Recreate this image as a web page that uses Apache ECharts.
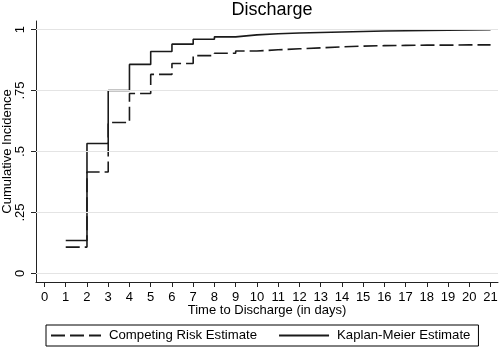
<!DOCTYPE html>
<html>
<head>
<meta charset="utf-8">
<script src="https://cdn.jsdelivr.net/npm/echarts@6/dist/echarts.min.js"></script>
<style>
  html, body { margin: 0; padding: 0; background: #fff; }
  #chart { width: 500px; height: 351px; }
</style>
</head>
<body>
<div id="chart"></div>
<script>
// time points (days) where the step estimates change
const days = [1, 2, 3, 4, 5, 6, 7, 8, 9, 10, 11, 12, 13, 14, 15, 16, 17, 18, 19, 20, 21];
// Kaplan-Meier estimate (solid)
const kmValues = [0.135, 0.533, 0.75, 0.857, 0.91, 0.94, 0.96, 0.97, 0.978, 0.983, 0.986,
                  0.988, 0.99, 0.992, 0.994, 0.995, 0.996, 0.997, 0.998, 0.999, 1.0];
// Competing risk estimate (dashed)
const crValues = [0.108, 0.416, 0.619, 0.738, 0.816, 0.861, 0.893, 0.903, 0.912, 0.917, 0.921,
                  0.925, 0.929, 0.932, 0.934, 0.935, 0.936, 0.936, 0.937, 0.937, 0.937];
// tick labels
const xTicks = [0, 1, 2, 3, 4, 5, 6, 7, 8, 9, 10, 11, 12, 13, 14, 15, 16, 17, 18, 19, 20, 21];
const yTicks = [0, 0.25, 0.5, 0.75, 1];
const yTickLabels = ['0', '.25', '.5', '.75', '1'];

const FONT = 'Liberation Sans, Arial, sans-serif';

function pairs(xs, ys) {
    return xs.map((x, i) => [x, ys[i]]);
}

const chart = echarts.init(document.getElementById('chart'), null, { renderer: 'canvas' });

chart.setOption({
    animation: false,
    backgroundColor: '#fff',
    title: {
        text: 'Discharge',
        left: 267,
        top: -4,
        textAlign: 'center',
        textStyle: { fontFamily: FONT, fontSize: 18, fontWeight: 'normal', color: '#000' }
    },
    grid: { left: 36, right: 2, top: 21, bottom: 69, containLabel: false, outerBoundsMode: 'none' },
    xAxis: {
        type: 'value',
        min: -0.4,
        max: 21.35,
        name: 'Time to Discharge (in days)',
        nameLocation: 'middle',
        nameGap: 22,
        nameMoveOverlap: false,
        nameTextStyle: { fontFamily: FONT, fontSize: 13, color: '#000' },
        axisLine: { show: true, onZero: false, lineStyle: { color: '#222', width: 1 } },
        axisTick: { show: true, length: 5, customValues: xTicks, lineStyle: { color: '#222' } },
        axisLabel: { customValues: xTicks, margin: 9, fontFamily: FONT, fontSize: 13, color: '#000' },
        splitLine: { show: false }
    },
    yAxis: {
        type: 'value',
        min: -0.035,
        max: 1.035,
        name: 'Cumulative Incidence',
        nameLocation: 'middle',
        nameRotate: 90,
        nameGap: 22,
        nameMoveOverlap: false,
        nameTextStyle: { fontFamily: FONT, fontSize: 13, color: '#000' },
        axisLine: { show: true, onZero: false, lineStyle: { color: '#222', width: 1 } },
        axisTick: { show: true, length: 5, customValues: yTicks, lineStyle: { color: '#222' } },
        axisLabel: {
            customValues: yTicks,
            rotate: 90,
            margin: 9,
            fontFamily: FONT, fontSize: 13, color: '#000',
            formatter: v => yTickLabels[yTicks.indexOf(v)] ?? ''
        },
        splitLine: { show: false }
    },
    legend: {
        data: ['Competing Risk Estimate', 'Kaplan-Meier Estimate'],
        left: 46,
        top: 325,
        orient: 'horizontal',
        padding: [4, 8, 4, 4],
        itemGap: 21,
        itemWidth: 50,
        itemHeight: 14,
        borderColor: '#000',
        borderWidth: 1,
        borderRadius: 0,
        itemStyle: { opacity: 0 },
        textStyle: { fontFamily: FONT, fontSize: 13.2, color: '#000', padding: [0, 0, 0, 3] }
    },
    series: [
        {
            name: 'gridlines',
            type: 'line',
            data: [],
            z: 1,
            silent: true,
            markLine: {
                silent: true,
                symbol: 'none',
                label: { show: false },
                lineStyle: { color: '#e4e4e4', type: 'solid', width: 1 },
                data: yTicks.map(v => ({ yAxis: v }))
            }
        },
        {
            name: 'Competing Risk Estimate',
            type: 'line',
            step: 'end',
            symbol: 'none',
            z: 3,
            data: pairs(days, crValues),
            lineStyle: { color: '#1a1a1a', width: 1.6, type: [14, 5] },
            itemStyle: { color: '#1a1a1a' }
        },
        {
            name: 'Kaplan-Meier Estimate',
            type: 'line',
            step: 'end',
            symbol: 'none',
            z: 3,
            data: pairs(days, kmValues),
            lineStyle: { color: '#1a1a1a', width: 1.6, type: 'solid' },
            itemStyle: { color: '#1a1a1a' }
        }
    ]
});
</script>
</body>
</html>
